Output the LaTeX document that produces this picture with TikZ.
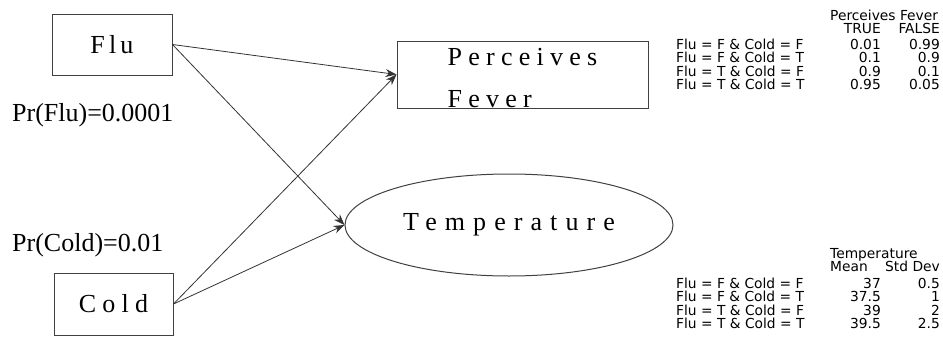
\documentclass[tikz,border=0pt]{standalone}
\usepackage{fontspec}
\setmainfont{Liberation Serif}
\newfontfamily\cptfont{DejaVu Sans}
\newfontfamily\wideserif[LetterSpace=24]{Liberation Serif}
\newfontfamily\narrowserif[LetterSpace=16]{Liberation Serif}
\newfontfamily\widestserif[LetterSpace=31]{Liberation Serif}
\usetikzlibrary{arrows.meta,positioning,shapes.geometric}

\begin{document}
\begin{tikzpicture}[x=1pt, y=-1pt,
    var/.style={draw=black!75, line width=1pt, inner sep=0pt, font=\wideserif\fontsize{26}{42}\selectfont},
    arr/.style={-{Stealth[length=11pt,width=8pt]}, draw=black!80, line width=0.8pt},
    prob/.style={anchor=west, inner sep=0pt, font=\fontsize{26}{26}\selectfont},
    cpt/.style={inner sep=0pt, font=\cptfont\fontsize{13.8}{14}\selectfont},
    cond/.style={cpt, anchor=base west},
    num/.style={cpt, anchor=base east}
  ]
    \useasboundingbox (0,0) rectangle (943,343);

    % variables
    \node[var, minimum width=120pt, minimum height=61pt, font=\narrowserif\fontsize{26}{26}\selectfont] (flu) at (112,44.5) {Flu};
    \node[var, minimum width=119pt, minimum height=62pt] (cold) at (113.5,304) {Cold};
    \node[var, minimum width=251pt, text height=24pt, text depth=43pt] (fever) at (522.5,74.5)
      {\begin{tabular}[t]{@{}l@{}}Perceives\\Fever\end{tabular}};
    \node[var, ellipse, minimum width=328pt, minimum height=102pt, font=\widestserif\fontsize{26}{26}\selectfont] (temp) at (509,225) {Temperature};

    % priors
    \node[prob] (pflu) at (12,115) {Pr(Flu)=0.0001};
    \node[prob] (pcold) at (12,245) {Pr(Cold)=0.01};

    % links
    \draw[arr] (flu.east) -- (fever.west);
    \draw[arr] (flu.east) -- (temp.west);
    \draw[arr] (cold.east) -- (fever.west);
    \draw[arr] (cold.east) -- (temp.west);

    % table for Perceives Fever
    \node[cond] (fhead) at (830,20) {Perceives Fever};
    \node[num] (ftrue) at (881,33) {TRUE};
    \node[num] (ffalse) at (940,33) {FALSE};
    \foreach \fl/\co/\t/\f [count=\i] in {F/F/0.01/0.99, F/T/0.1/0.9, T/F/0.9/0.1, T/T/0.95/0.05}{
      \node[cond] (frow\i) at (676,35.5+13.5*\i) {Flu = \fl{} \& Cold = \co};
      \node[num] (ft\i) at (881,35.5+13.5*\i) {\t};
      \node[num] (ff\i) at (940,35.5+13.5*\i) {\f};
    }

    % table for Temperature
    \node[cond] (thead) at (830,258) {Temperature};
    \node[cond] (tmean) at (830,271) {Mean};
    \node[num] (tsd) at (940,271) {Std Dev};
    \foreach \fl/\co/\m/\s [count=\i] in {F/F/37/0.5, F/T/37.5/1, T/F/39/2, T/T/39.5/2.5}{
      \node[cond] (trow\i) at (676,274.5+13.5*\i) {Flu = \fl{} \& Cold = \co};
      \node[num] (tm\i) at (881,274.5+13.5*\i) {\m};
      \node[num] (ts\i) at (940,274.5+13.5*\i) {\s};
    }
  \end{tikzpicture}
\end{document}
